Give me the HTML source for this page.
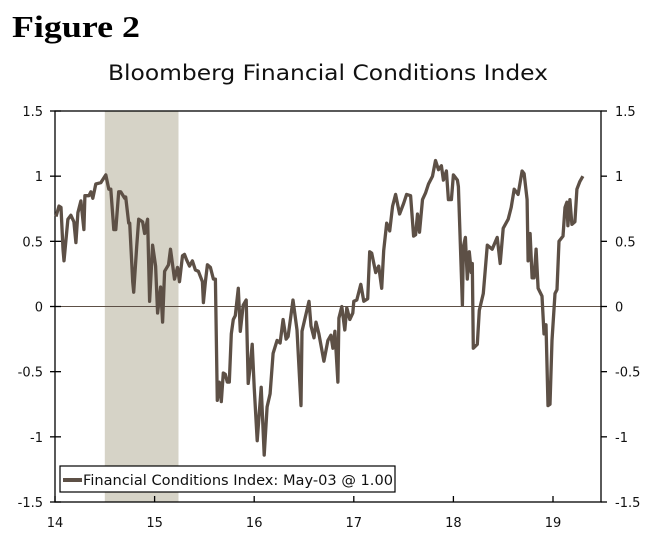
<!DOCTYPE html>
<html><head><meta charset="utf-8">
<style>
body{margin:0;background:#fff;width:655px;height:544px;overflow:hidden}
svg{display:block}
text{font-family:"DejaVu Sans","Liberation Sans",sans-serif}
</style></head>
<body>
<svg id="chart" width="655" height="544">
<text x="12" y="37" font-weight="bold" font-size="31" textLength="128" lengthAdjust="spacingAndGlyphs" style="font-family:'Liberation Serif',serif">Figure 2</text>
<text x="108" y="80" font-size="21" textLength="440" lengthAdjust="spacingAndGlyphs" fill="#111">Bloomberg Financial Conditions Index</text>
<g id="plot"></g>
</svg>
<script>
const dates=[14.01,14.04,14.06,14.08,14.09,14.13,14.16,14.19,14.21,14.23,14.26,14.29,14.30,14.34,14.36,14.38,14.41,14.46,14.51,14.54,14.56,14.59,14.61,14.64,14.66,14.70,14.71,14.74,14.75,14.78,14.79,14.82,14.84,14.86,14.88,14.90,14.93,14.95,14.98,15.01,15.03,15.06,15.08,15.10,15.14,15.16,15.20,15.23,15.25,15.28,15.30,15.32,15.35,15.38,15.41,15.44,15.48,15.49,15.51,15.53,15.56,15.59,15.61,15.63,15.65,15.67,15.69,15.71,15.73,15.75,15.77,15.79,15.81,15.84,15.86,15.89,15.92,15.94,15.96,15.98,16.00,16.03,16.07,16.10,16.13,16.16,16.19,16.23,16.26,16.29,16.32,16.34,16.39,16.43,16.47,16.48,16.55,16.57,16.60,16.62,16.65,16.70,16.74,16.77,16.79,16.81,16.84,16.85,16.88,16.91,16.93,16.96,16.99,17.00,17.03,17.07,17.10,17.14,17.16,17.18,17.22,17.25,17.28,17.30,17.33,17.36,17.39,17.42,17.46,17.50,17.53,17.57,17.60,17.62,17.64,17.66,17.69,17.72,17.75,17.79,17.82,17.85,17.88,17.90,17.93,17.95,17.98,18.00,18.04,18.05,18.09,18.10,18.12,18.14,18.16,18.18,18.19,18.20,18.24,18.26,18.30,18.34,18.39,18.44,18.47,18.50,18.55,18.58,18.61,18.65,18.69,18.71,18.74,18.75,18.77,18.79,18.81,18.83,18.85,18.89,18.91,18.93,18.95,18.97,18.99,19.02,19.04,19.06,19.10,19.12,19.14,19.15,19.17,19.19,19.22,19.24,19.27,19.30];
const vals=[0.69,0.77,0.76,0.44,0.35,0.67,0.70,0.65,0.49,0.72,0.81,0.59,0.85,0.85,0.88,0.83,0.94,0.95,1.01,0.90,0.90,0.59,0.59,0.88,0.88,0.83,0.84,0.64,0.64,0.19,0.11,0.46,0.67,0.66,0.65,0.56,0.67,0.04,0.47,0.31,-0.05,0.15,-0.12,0.27,0.32,0.44,0.21,0.30,0.19,0.39,0.40,0.36,0.31,0.35,0.28,0.27,0.19,0.03,0.19,0.32,0.30,0.21,0.21,-0.72,-0.58,-0.73,-0.51,-0.52,-0.58,-0.58,-0.21,-0.10,-0.07,0.14,-0.19,0.01,0.05,-0.59,-0.46,-0.29,-0.62,-1.03,-0.62,-1.14,-0.77,-0.67,-0.36,-0.26,-0.28,-0.10,-0.25,-0.23,0.05,-0.18,-0.76,-0.19,0.04,-0.15,-0.24,-0.12,-0.21,-0.42,-0.26,-0.22,-0.32,-0.19,-0.58,-0.09,0.00,-0.18,-0.01,-0.10,-0.05,0.04,0.05,0.17,0.04,0.06,0.42,0.41,0.26,0.31,0.14,0.43,0.64,0.58,0.77,0.86,0.71,0.79,0.86,0.85,0.54,0.55,0.71,0.57,0.82,0.87,0.94,1.00,1.12,1.05,1.08,0.97,1.04,0.82,0.82,1.01,0.97,0.92,0.01,0.46,0.53,0.21,0.42,0.26,0.33,-0.32,-0.29,-0.03,0.10,0.47,0.44,0.53,0.33,0.60,0.67,0.76,0.90,0.86,1.04,1.02,0.82,0.35,0.56,0.22,0.22,0.44,0.14,0.08,-0.21,-0.14,-0.76,-0.75,-0.26,0.10,0.13,0.50,0.54,0.76,0.80,0.62,0.82,0.63,0.65,0.90,0.96,1.00];
const yTicks=[1.5,1,0.5,0,-0.5,-1,-1.5];
const yTickLabels=["1.5","1","0.5","0","-0.5","-1","-1.5"];
const xTicks=[14,15,16,17,18,19];
const recession=[14.5,15.24];
const legendLabel="Financial Conditions Index: May-03 @ 1.00";

const L=55,R=601,T=111,B=502;
const xs=d=>L+(d-14)*99.6;
const ys=v=>T+(1.5-v)*(B-T)/3;
const NS="http://www.w3.org/2000/svg";
const g=document.getElementById('plot');
function mk(tag,attrs){const e=document.createElementNS(NS,tag);for(const k in attrs)e.setAttribute(k,attrs[k]);g.appendChild(e);return e;}

let e=mk('rect',{x:xs(recession[0]),y:T,width:xs(recession[1])-xs(recession[0]),height:B-T,fill:'#d6d3c7'});


e=mk('line',{x1:L,x2:R,y1:ys(0),y2:ys(0),stroke:'#5d5046','stroke-width':1});


e=mk('rect',{x:L,y:T,width:R-L,height:B-T,fill:'none',stroke:'#000','stroke-width':1.3});


yTicks.forEach((t,i)=>{
  const y=ys(t);
  let a=mk('line',{x1:L-5,x2:L+6,y1:y,y2:y,stroke:'#000','stroke-width':1.3});
  
  
  a=mk('line',{x1:R,x2:R+6,y1:y,y2:y,stroke:'#000','stroke-width':1.3});
  
  
  a=mk('text',{x:L-12,y:y+5,'text-anchor':'end','font-size':13,fill:'#111'});a.textContent=yTickLabels[i];
  
  
  a=mk('text',{x:R+14,y:y+5,'text-anchor':'start','font-size':13,fill:'#111'});a.textContent=yTickLabels[i];
  
  
});
xTicks.forEach(t=>{
  const x=xs(t);
  let a=mk('line',{x1:x,x2:x,y1:B-6,y2:B,stroke:'#000','stroke-width':1.3});
  
  
  a=mk('text',{x:x,y:B+25,'text-anchor':'middle','font-size':13,fill:'#111'});a.textContent=String(t);
  
  
});
let d='';dates.forEach((t,i)=>{d+=(i?'L':'M')+xs(t).toFixed(1)+','+ys(vals[i]).toFixed(1);});
e=mk('path',{d:d,fill:'none',stroke:'#5d5046','stroke-width':3.3,'stroke-linejoin':'round'});


e=mk('rect',{x:60,y:466,width:335,height:26,fill:'#fff',stroke:'#000','stroke-width':1.2});


e=mk('line',{x1:63,x2:82,y1:480,y2:480,stroke:'#5d5046','stroke-width':4});


e=mk('text',{x:83,y:485,'font-size':14,fill:'#111',textLength:310,lengthAdjust:'spacingAndGlyphs'});e.textContent=legendLabel;


</script>
</body></html>
